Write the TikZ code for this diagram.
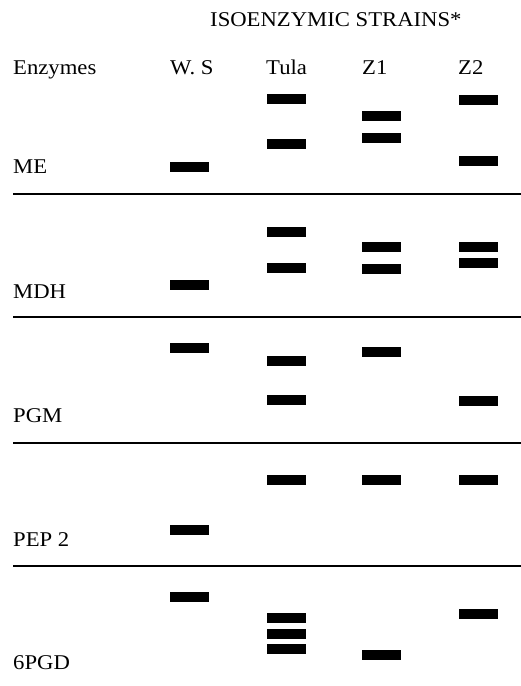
\documentclass[tikz,border=0pt]{standalone}
\usepackage{fontspec}
\setmainfont[FakeStretch=1.08]{Liberation Serif}
\begin{document}
\begin{tikzpicture}[x=1pt,y=-1pt,
  lbl/.style={anchor=base west,inner sep=0pt,font=\fontsize{21}{24}\selectfont},
  band/.style={fill=black,minimum width=39pt,minimum height=9.5pt,inner sep=0pt,outer sep=0pt},
  rule/.style={line width=1.2pt}]
\useasboundingbox (0,0) rectangle (521,686);
% titles
\node[lbl] (title) at (210,26) {ISOENZYMIC STRAINS*};
\node[lbl] (henz) at (13,74) {Enzymes};
\node[lbl] (hws) at (170,74) {W. S};
\node[lbl] (htula) at (266,74) {Tula};
\node[lbl] (hz1) at (362,74) {Z1};
\node[lbl] (hz2) at (458,74) {Z2};
% enzyme labels
\node[lbl] (me) at (13,173) {ME};
\node[lbl] (mdh) at (13,298) {MDH};
\node[lbl] (pgm) at (13,422) {PGM};
\node[lbl] (pep) at (13,546) {PEP 2};
\node[lbl] (pgd) at (13,669) {6PGD};
% separators
\foreach \y [count=\i] in {194,317,443,566}{
  \coordinate (l\i a) at (13,\y);
  \coordinate (l\i b) at (521,\y);
  \draw[rule] (l\i a) -- (l\i b);
}
% ME
\node[band] (meT1) at (286,99) {};
\node[band] (meT2) at (286,144) {};
\node[band] (meZa) at (381.5,116) {};
\node[band] (meZb) at (381.5,138) {};
\node[band] (meY1) at (478.5,100) {};
\node[band] (meY2) at (478.5,161) {};
\node[band] (meW) at (189.5,167) {};
% MDH
\node[band] (mdT1) at (286,232) {};
\node[band] (mdT2) at (286,268) {};
\node[band] (mdZa) at (381.5,247) {};
\node[band] (mdZb) at (381.5,269) {};
\node[band] (mdY1) at (478.5,247) {};
\node[band] (mdY2) at (478.5,263) {};
\node[band] (mdW) at (189.5,285) {};
% PGM
\node[band] (pgW) at (189.5,348) {};
\node[band] (pgT1) at (286,361) {};
\node[band] (pgT2) at (286,400) {};
\node[band] (pgZa) at (381.5,352) {};
\node[band] (pgY) at (478.5,401) {};
% PEP 2
\node[band] (peT) at (286,480) {};
\node[band] (peZ) at (381.5,480) {};
\node[band] (peY) at (478.5,480) {};
\node[band] (peW) at (189.5,530) {};
% 6PGD
\node[band] (gdW) at (189.5,597) {};
\node[band] (gdT1) at (286,618) {};
\node[band] (gdT2) at (286,634) {};
\node[band] (gdT3) at (286,649) {};
\node[band] (gdZ) at (381.5,655) {};
\node[band] (gdY) at (478.5,614) {};
\end{tikzpicture}
\end{document}
